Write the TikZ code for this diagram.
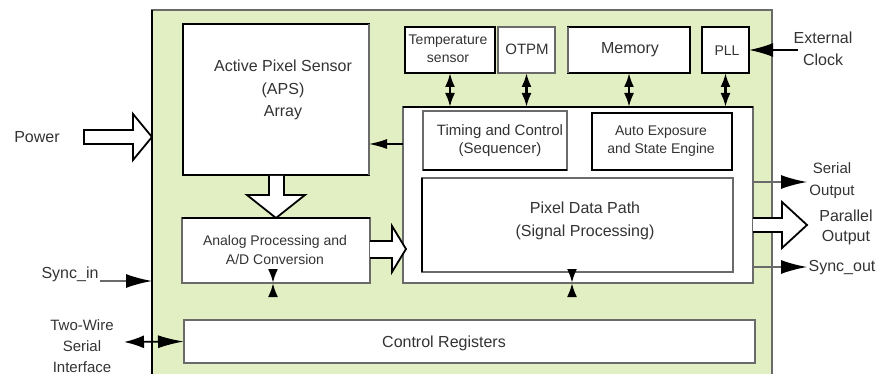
\documentclass[tikz,border=0pt]{standalone}
\usepackage{fontspec}
\setmainfont{Liberation Sans}
\usetikzlibrary{arrows.meta,calc}
\definecolor{chipfill}{HTML}{E2EFC2}
\definecolor{dg}{HTML}{6A6A6A}
\definecolor{txt}{HTML}{333333}
\newcommand{\fsz}[2]{\fontsize{#1}{#2}\selectfont}
\begin{document}
\begin{tikzpicture}[x=1pt,y=-1pt,
  box/.style={draw=black, line width=2.4pt, fill=white, inner sep=0pt, outer sep=0pt, anchor=north west},
  gbox/.style={box, draw=dg},
  bk/.style={draw=black, line width=2.4pt},
  gk/.style={draw=dg, line width=2.4pt},
  lab/.style={text=txt, align=center, inner sep=0pt, font=\fsz{16}{22}},
  dbl/.style={line width=2.4pt, {Latex[length=14pt,width=10pt]}-{Latex[length=14pt,width=10pt]}},
  sgl/.style={draw=dg, line width=1.6pt, -{Latex[length=26pt,width=14pt,color=black]}},
  hollow/.style={draw=black, line width=1.8pt, fill=white, line join=miter},
]
\useasboundingbox (0,0) rectangle (878,374);
\clip (0,0) rectangle (878,374);

% chip
\node[gbox, fill=chipfill, minimum width=620pt, minimum height=380pt] (chip) at (152,10) {};
\draw[bk, line width=2.8pt] (chip.north west) -- (chip.south west);

% boxes
\node[box, minimum width=186pt, minimum height=151pt] (aps) at (183,24) {};
\draw[gk] (aps.north east) -- (aps.south east);
\node[box, minimum width=90pt, minimum height=46pt] (temp) at (405,27) {};
\node[gbox, minimum width=57pt, minimum height=46pt] (otpm) at (498,27) {};
\node[box, minimum width=122pt, minimum height=46pt] (mem) at (568,27) {};
\draw[gk] (mem.north west) -- (mem.south west);
\node[box, minimum width=47pt, minimum height=46pt] (pll) at (702,27) {};

\node[gbox, minimum width=350pt, minimum height=176pt] (big) at (403,107) {};
\draw[bk] (big.north west) -- (big.north east);
\node[gbox, minimum width=144pt, minimum height=59pt] (timing) at (423,111) {};
\draw[bk] (timing.south west) -- (timing.south east);
\node[box, minimum width=140pt, minimum height=57pt] (auto) at (592,113) {};
\node[gbox, minimum width=311pt, minimum height=94pt] (pix) at (422,178) {};
\draw[bk] (pix.north west) -- (pix.south west);

\node[gbox, minimum width=188pt, minimum height=65pt] (ana) at (182,218) {};
\draw[bk] (ana.north west) -- (ana.north east);
\node[gbox, minimum width=571pt, minimum height=43pt] (ctrl) at (184,320) {};

% hollow block arrows
\draw[hollow] (84,130) -- (133,130) -- (133,114) -- (chip.west |- 0,137) -- (133,160) -- (133,144) -- (84,144) -- cycle;
\draw[hollow] (269,176) -- (269,195) -- (247,195) -- (276,218) -- (305,195) -- (284,195) -- (284,176);
\draw[hollow] (ana.east |- 0,241) -- (392,241) -- (392,226) -- (406,249) -- (392,272) -- (392,258) -- (ana.east |- 0,258);
\draw[hollow] (big.east |- 0,218) -- (782,218) -- (782,202) -- (807,225) -- (782,248) -- (782,232) -- (big.east |- 0,232);

% bus arrows
\draw[dbl] (temp.south) -- (temp.south |- big.north);
\draw[dbl] (otpm.south) -- (otpm.south |- big.north);
\draw[dbl] (mem.south) -- (mem.south |- big.north);
\draw[dbl] (pll.south) -- (pll.south |- big.north);
\draw[dbl] ($(ana.south)+(-3,0)$) -- ($(ana.south)+(-3,0)$ |- ctrl.north);
\draw[dbl] ($(big.south)+(-6,0)$) -- ($(big.south)+(-6,0)$ |- ctrl.north);
\draw[line width=1.4pt, -{Latex[length=18pt,width=10pt]}] (big.west |- 0,144) -- (aps.east |- 0,144);

% external connections
\coordinate (ext) at (798,50);
\draw[line width=1.8pt, -{Latex[length=24pt,width=14pt]}] (ext) -- (pll.east);
\coordinate (so) at (807,182);
\draw[sgl] (big.east |- so) -- (so);
\coordinate (syo) at (807,267);
\draw[sgl] (big.east |- syo) -- (syo);
\coordinate (syi) at (100,281);
\draw[sgl] (syi) -- (chip.west |- syi);
\coordinate (tw) at (124,342);
\draw[line width=1.8pt, {Latex[length=20pt,width=13pt]}-{Latex[length=26pt,width=13pt]}] (tw) -- (ctrl.west);

% labels
\node[lab, font=\fsz{16}{22.5}] (tAPS) at (283,90) {Active Pixel Sensor\\(APS)\\Array};
\node[lab, font=\fsz{14}{18}] (tTemp) at (448,49) {Temperature\\sensor};
\node[lab, font=\fsz{15}{18}] (tOTPM) at (527,49) {OTPM};
\node[lab] (tMem) at (630,50) {Memory};
\node[lab, font=\fsz{14}{18}] (tPLL) at (727,51) {PLL};
\node[lab] (tExt) at (823,49) {External\\Clock};
\node[lab, font=\fsz{15}{18}] (tTim) at (500,141) {Timing and Control\\(Sequencer)};
\node[lab, font=\fsz{14}{18}] (tAuto) at (661,141) {Auto Exposure\\and State Engine};
\node[lab, font=\fsz{16}{23}] (tPix) at (585,221) {Pixel Data Path\\(Signal Processing)};
\node[lab, font=\fsz{14}{19}] (tAna) at (275,250) {Analog Processing and\\A/D Conversion};
\node[lab] (tCtrl) at (444,343) {Control Registers};
\node[lab] (tPow) at (37,137) {Power};
\node[lab] (tSyi) at (70,274) {Sync\_in};
\node[lab, font=\fsz{15}{21}] (tTw) at (82,346) {Two-Wire\\Serial\\Interface};
\node[lab, font=\fsz{15}{22}] (tSo) at (832,181) {Serial\\Output};
\node[lab, font=\fsz{16}{20}] (tPar) at (846,227) {Parallel\\Output};
\node[lab] (tSyo) at (842,268) {Sync\_out};
\end{tikzpicture}
\end{document}
